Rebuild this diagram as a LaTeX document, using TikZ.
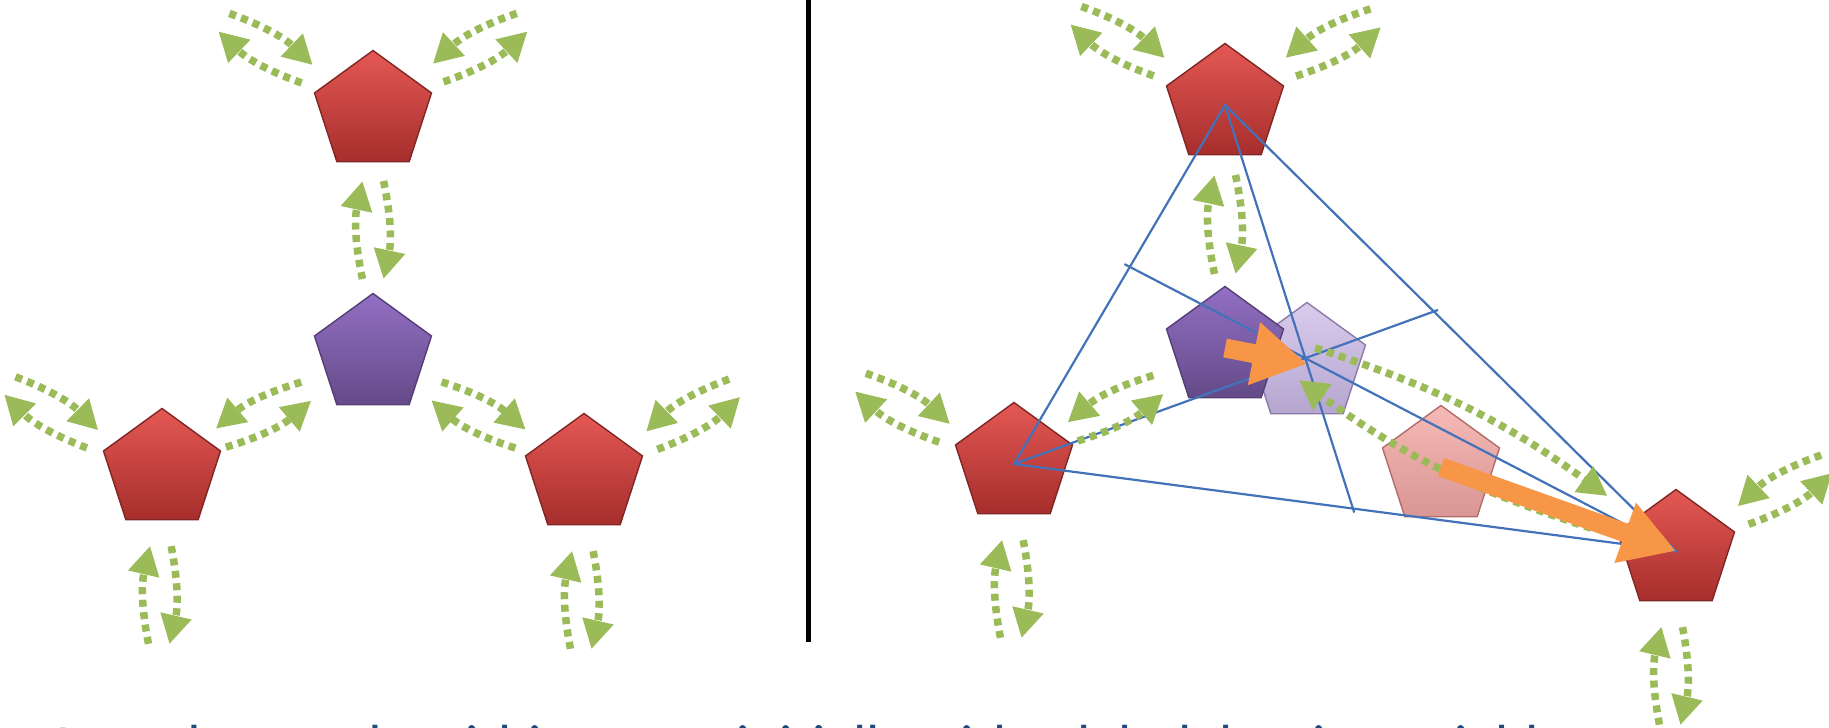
\documentclass[tikz,border=0pt]{standalone}
\usepackage{fontspec}
\newfontfamily\slidefont{Carlito}
\usepackage{xcolor}
\definecolor{RedTop}{RGB}{228,88,84}
\definecolor{RedBottom}{RGB}{166,46,44}
\definecolor{RedLine}{RGB}{128,38,36}
\definecolor{PurpleTop}{RGB}{146,112,196}
\definecolor{PurpleBottom}{RGB}{100,74,136}
\definecolor{PurpleLine}{RGB}{86,62,118}
\definecolor{LilacTop}{RGB}{216,204,236}
\definecolor{LilacBottom}{RGB}{182,166,208}
\definecolor{LilacLine}{RGB}{140,122,168}
\definecolor{PinkTop}{RGB}{246,186,182}
\definecolor{PinkBottom}{RGB}{216,150,148}
\definecolor{PinkLine}{RGB}{180,108,106}
\definecolor{Green}{RGB}{155,187,89}
\definecolor{Orange}{RGB}{247,150,70}
\definecolor{Blue}{RGB}{68,114,186}
\definecolor{Navy}{RGB}{31,73,125}
\usepackage{tikz}
\usetikzlibrary{shapes.geometric, arrows.meta, calc}

\tikzset{
  pent/.style={regular polygon, regular polygon sides=5, minimum size=1.23cm, inner sep=0pt, line width=0.4pt},
  rednode/.style={pent, top color=RedTop, bottom color=RedBottom, draw=RedLine},
  purplenode/.style={pent, top color=PurpleTop, bottom color=PurpleBottom, draw=PurpleLine},
  lilacnode/.style={pent, top color=LilacTop, bottom color=LilacBottom, draw=LilacLine},
  pinknode/.style={pent, top color=PinkTop, bottom color=PinkBottom, draw=PinkLine},
  link/.style={draw=Green, line width=0.75mm, dash pattern=on 0.7mm off 0.55mm, -{Triangle[length=2.9mm, width=3mm]}},
  move/.style={draw=Orange, line width=1.9mm, -{Triangle[length=5.4mm, width=6mm]}},
  tri/.style={draw=Blue, line width=0.22mm},
  divider/.style={draw=black, line width=0.5mm}
}

% two bowed dotted arrows, one each way
\newcommand{\pairbend}{12}
\newcommand{\linkpair}[4][1.05mm]{%
  \pgfmathsetmacro{\pairside}{#4*\pairbend}%
  \draw[link] ($(#2)!#4*#1!90:(#3)$) to[bend left=\pairside] ($(#3)!#4*#1!-90:(#2)$);
  \draw[link] ($(#3)!#4*#1!90:(#2)$) to[bend left=\pairside] ($(#2)!#4*#1!-90:(#3)$);
}

\begin{document}
\begin{tikzpicture}

		\useasboundingbox (0,0) rectangle (18.29,-7.28);

		% Divider
		\coordinate (divtop) at (8.08,0);
		\coordinate (divbot) at (8.08,-6.42);
		\draw[divider] (divtop) -- (divbot);

		% Nodes, left
		\node[rednode]    (t1) at (3.73,-1.12) {};
		\node[purplenode] (p1) at (3.73,-3.55) {};
		\node[rednode]    (l1) at (1.62,-4.70) {};
		\node[rednode]    (r1) at (5.84,-4.75) {};

		% Nodes, right
		\node[lilacnode]  (q2) at (13.07,-3.64) {};
		\node[purplenode] (p2) at (12.25,-3.48) {};
		\node[pinknode]   (k2) at (14.41,-4.67) {};
		\node[rednode]    (t2) at (12.25,-1.05) {};
		\node[rednode]    (l2) at (10.14,-4.64) {};
		\node[rednode]    (r2) at (16.76,-5.51) {};

		% Triangle and medians
		\coordinate (m1) at ($(t2)!0.451!(l2)$);
		\coordinate (m2) at ($(t2)!0.463!(r2)$);
		\coordinate (m3) at ($(l2)!0.512!(r2)$);
		\draw[tri] (t2.center) -- (l2.center) -- (r2.center) -- cycle;
		\draw[tri] (t2.center) -- ($(t2)!1.01!(m3)$);
		\draw[tri] (l2.center) -- ($(l2)!1.01!(m2)$);
		\draw[tri] (r2.center) -- ($(r2)!1.01!(m1)$);

		% Links to outside neighbours
		\foreach \nd/\tag/\an/\af/\s in {t1/nw/150/149/1, t1/ne/31/31/-1,
			l1/nw/156/151/1, l1/so/-91/-91/1, r1/ne/27/30/-1, r1/so/-91/-91/1,
			t2/nw/150/149/1, t2/ne/30/30/-1, l2/nw/156/152/1, l2/so/-91/-91/1,
			r2/ne/28/30/-1, r2/so/-93/-92/1}{
			\coordinate (\nd\tag n) at ($(\nd)+(\an:0.76)$);
			\coordinate (\nd\tag f) at ($(\nd)+(\af:1.74)$);
			\linkpair{\nd\tag n}{\nd\tag f}{\s}
		}

		% Links between nodes
		\coordinate (a1) at ($(t1)!0.69cm!(p1)$);
		\coordinate (b1) at ($(p1)!0.76cm!(t1)$);
		\linkpair{a1}{b1}{1}
		\coordinate (a2) at ($(l1)!0.67cm!(p1)$);
		\coordinate (b2) at ($(p1)!0.76cm!(l1)$);
		\linkpair{a2}{b2}{-1}
		\coordinate (a3) at ($(p1)!0.73cm!(r1)$);
		\coordinate (b3) at ($(r1)!0.73cm!(p1)$);
		\linkpair{a3}{b3}{1}
		\coordinate (a4) at ($(t2)!0.70cm!(p2)$);
		\coordinate (b4) at ($(p2)!0.74cm!(t2)$);
		\linkpair{a4}{b4}{1}
		\coordinate (a5) at ($(l2)!0.67cm!(p2)$);
		\coordinate (b5) at ($(p2)!0.76cm!(l2)$);
		\linkpair{a5}{b5}{-1}
		\renewcommand{\pairbend}{9}
		\coordinate (a6) at (q2.center);
		\coordinate (b6) at ($(r2)!0.86cm!(q2)$);
		\linkpair[1.8mm]{a6}{b6}{1}

		% Moves
		\draw[move] (p2.center) -- (q2.center);
		\draw[move] (k2.center) -- (r2.center);

		% Text
		\node[anchor=base west, inner sep=0pt, text=Navy, font=\slidefont\fontsize{16.5}{20}\selectfont] (caption) at (0.456,-7.66)
			{A random node within a tree initially with a label, but its variable};

	\end{tikzpicture}
\end{document}
